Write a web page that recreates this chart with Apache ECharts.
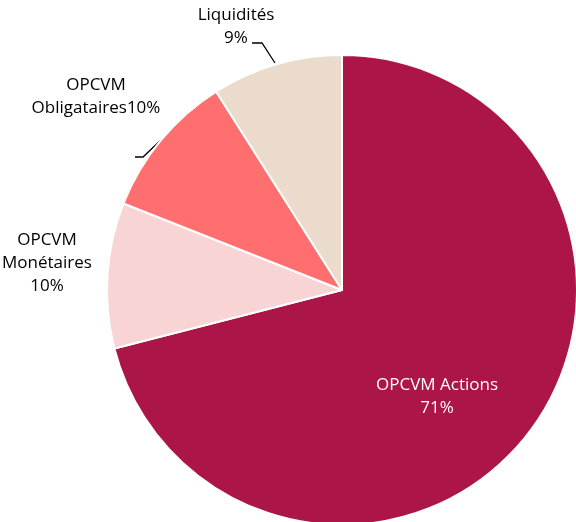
<!DOCTYPE html>
<html><head><meta charset="utf-8">
<script src="https://cdn.jsdelivr.net/npm/echarts@6/dist/echarts.min.js"></script>
<style>html,body{margin:0;padding:0;background:#fff}#c{width:576px;height:522px}</style>
</head><body><div id="c"></div>
<script>
const categories = ['OPCVM Actions', 'OPCVM Monétaires', 'OPCVM Obligataires', 'Liquidités'];
const values = [71, 10, 10, 9];
const labelTexts = ['OPCVM Actions\n71%', 'OPCVM\nMonétaires\n10%', 'OPCVM\nObligataires10%', 'Liquidités\n9%'];
const colors = ['#AB1547', '#F8D4D4', '#FF6F6F', '#EADBCD'];
const labelColors = ['#ffffff', '#000000', '#000000', '#000000'];
const labelPos = [[437, 397], [47, 263], [96, 97], [236, 27]];
const linePts = [null, null, [[162, 139], [143, 157], [135, 157]], [[275, 63], [262, 43], [252, 43]]];

const chart = echarts.init(document.getElementById('c'), null, {renderer: 'canvas'});
chart.setOption({
  animation: false,
  series: [{
    type: 'pie',
    center: [342, 290],
    radius: 235,
    startAngle: 90,
    clockwise: true,
    data: categories.map((c, i) => ({
      name: c, value: values[i],
      itemStyle: {color: colors[i]},
      label: {color: labelColors[i], position: i === 0 ? 'inside' : 'outside'},
      labelLine: {show: !!linePts[i]}
    })),
    itemStyle: {borderColor: '#ffffff', borderWidth: 2},
    label: {
      show: true,
      formatter: p => labelTexts[p.dataIndex],
      fontFamily: 'Open Sans, Liberation Sans, sans-serif',
      fontSize: 17,
      lineHeight: 23,
      align: 'center',
      overflow: 'none',
      width: 200
    },
    labelLine: {lineStyle: {color: '#000', width: 1.3}, length: 10, length2: 10},
    labelLayout: p => {
      const o = {x: labelPos[p.dataIndex][0], y: labelPos[p.dataIndex][1], align: 'center', verticalAlign: 'middle'};
      if (linePts[p.dataIndex]) o.labelLinePoints = linePts[p.dataIndex];
      return o;
    }
  }]
});
</script></body></html>
